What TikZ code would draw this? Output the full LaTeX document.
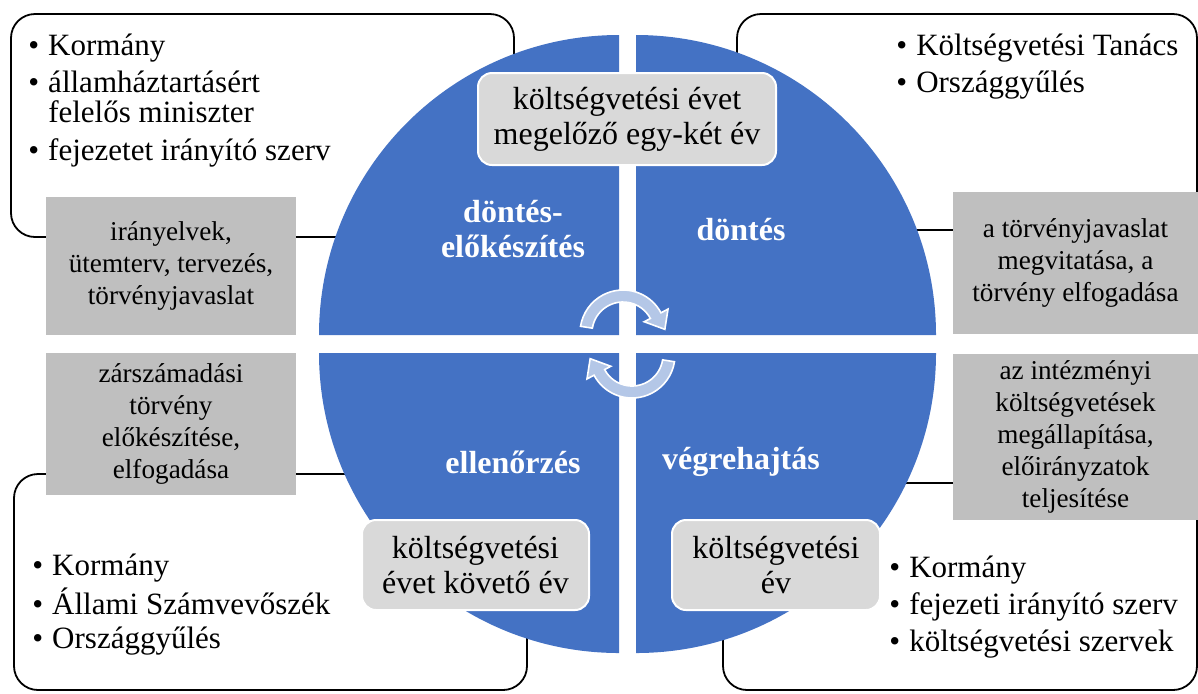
\documentclass[tikz,border=0pt]{standalone}
\usepackage{fontspec}
\IfFontExistsTF{LiberationSerif-Regular.ttf}
  {\setmainfont{LiberationSerif}[Extension=.ttf, UprightFont=*-Regular, BoldFont=*-Bold, ItalicFont=*-Italic, BoldItalicFont=*-BoldItalic]}
  {\setmainfont{Liberation Serif}}
\usetikzlibrary{positioning}
\definecolor{phaseblue}{HTML}{4472C4}
\definecolor{yeargray}{HTML}{D9D9D9}
\definecolor{taskgray}{HTML}{BFBFBF}
\definecolor{cyclelight}{HTML}{B4C7E7}
\tikzset{
    sector/.style={fill=phaseblue},
    phase/.style={text=white, font=\fontsize{16}{17.5}\selectfont\bfseries, align=center},
    yearbox/.style={fill=yeargray, draw=white, line width=1pt, rounded corners=7pt, align=center, inner sep=0pt, font=\fontsize{16}{17.5}\selectfont},
    taskbox/.style={fill=taskgray, align=center, inner sep=0pt, font=\fontsize{13.6}{16}\selectfont},
    actorframe/.style={draw=black, line width=0.9pt, rounded corners=12pt},
    actors/.style={inner sep=0pt, anchor=base west, font=\fontsize{15.5}{14.5}\selectfont},
    cyclearrow/.style={fill=cyclelight, draw=white, line width=0.8pt}
}
\newcommand{\actorlist}[1]{\begin{tabular}[t]{@{}l@{\hspace{4.5pt}}l@{}}#1\end{tabular}}

\begin{document}
\begin{tikzpicture}[x=0.5pt, y=-0.5pt]
    \useasboundingbox (0,0) rectangle (1198,693);
    % frames behind the wheel
    \draw[actorframe] (11,14) rectangle (514,237);
    \draw[actorframe] (737,14) rectangle (1197,230);
    \draw[actorframe] (14,474) rectangle (527,690);
    \draw[actorframe] (723,483) rectangle (1197,690);
    % the four sectors
    \fill[sector] (619,335) -- (319,335) arc[start angle=180, end angle=270, radius=300] -- cycle;
    \fill[sector] (636,335) -- (636,35) arc[start angle=270, end angle=360, radius=300] -- cycle;
    \fill[sector] (636,353) -- (936,353) arc[start angle=0, end angle=90, radius=300] -- cycle;
    \fill[sector] (619,353) -- (619,653) arc[start angle=90, end angle=180, radius=300] -- cycle;

    \node[taskbox, minimum width=125pt, minimum height=69pt] (taskTL) at (171,266) {irányelvek,\\ütemterv, tervezés,\\törvényjavaslat};
    \node[taskbox, minimum width=125pt, minimum height=71pt] (taskBL) at (171,424) {zárszámadási\\törvény\\előkészítése,\\elfogadása};
    \node[taskbox, minimum width=122.5pt, minimum height=71pt] (taskTR) at (1075.5,263) {a törvényjavaslat\\megvitatása, a\\törvény elfogadása};
    \node[taskbox, minimum width=122.5pt, minimum height=83pt] (taskBR) at (1075.5,437) {az intézményi\\költségvetések\\megállapítása,\\előirányzatok\\teljesítése};

    \node[yearbox, minimum width=149pt, minimum height=46pt] (yearTop) at (627,119) {költségvetési évet\\megelőző egy-két év};
    \node[yearbox, minimum width=113.5pt, minimum height=45pt] (yearBL) at (475.5,565) {költségvetési\\évet követő év};
    \node[yearbox, minimum width=104pt, minimum height=45pt] (yearBR) at (776,565) {költségvetési\\év};

    \node[phase] (prep) at (513,229) {döntés-\\előkészítés};
    \node[phase] (decide) at (741,230) {döntés};
    \node[phase] (control) at (513,462) {ellenőrzés};
    \node[phase] (execute) at (741,462) {végrehajtás};

    \begin{scope}[shift={(623,333)}]
        \filldraw[cyclearrow] (189:31) arc[start angle=189, end angle=332, radius=31] -- (332:24)
            -- (355:42) -- (332:51) -- (332:43) arc[start angle=332, end angle=189, radius=43] -- cycle;
    \end{scope}
    \begin{scope}[shift={(632,355)}]
        \filldraw[cyclearrow] (9:31) arc[start angle=9, end angle=152, radius=31] -- (152:24)
            -- (175:42) -- (152:51) -- (152:43) arc[start angle=152, end angle=9, radius=43] -- cycle;
    \end{scope}

    \node[actors] (actTL) at (28,55) {\actorlist{\textbullet & Kormány\\[3.5pt] \textbullet & államháztartásért\\ & felelős miniszter\\[3.5pt] \textbullet & fejezetet irányító szerv}};
    \node[actors] (actTR) at (896,55) {\actorlist{\textbullet & Költségvetési Tanács\\[3.5pt] \textbullet & Országgyűlés}};
    \node[actors] (actBL) at (32,575) {\actorlist{\textbullet & Kormány\\[2pt] \textbullet & Állami Számvevőszék\\[2pt] \textbullet & Országgyűlés}};
    \node[actors] (actBR) at (889,577) {\actorlist{\textbullet & Kormány\\[3.5pt] \textbullet & fejezeti irányító szerv\\[3.5pt] \textbullet & költségvetési szervek}};
\end{tikzpicture}
\end{document}
